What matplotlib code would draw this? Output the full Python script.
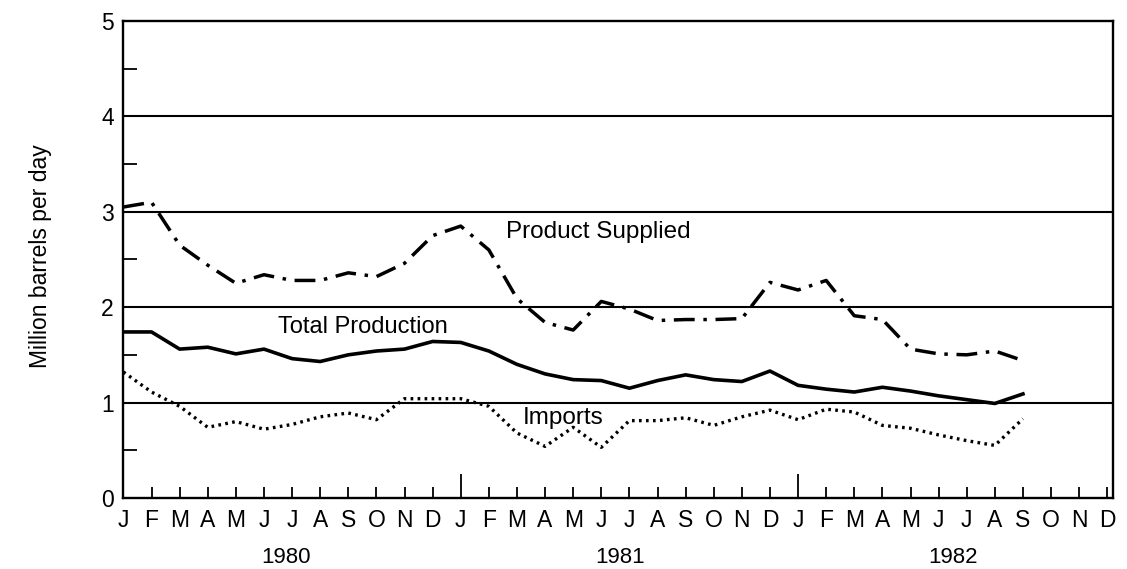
import matplotlib.pyplot as plt
import numpy as np

# monthly values, Jan 1980 .. Sep 1982 (million barrels per day)
product_supplied = [3.05, 3.10, 2.65, 2.44, 2.25, 2.34, 2.28, 2.28, 2.36, 2.32, 2.46, 2.75,
                    2.85, 2.60, 2.09, 1.84, 1.76, 2.06, 1.98, 1.86, 1.87, 1.87, 1.88, 2.26,
                    2.18, 2.28, 1.91, 1.87, 1.56, 1.51, 1.50, 1.54, 1.44]
total_production = [1.74, 1.74, 1.56, 1.58, 1.51, 1.56, 1.46, 1.43, 1.50, 1.54, 1.56, 1.64,
                    1.63, 1.54, 1.40, 1.30, 1.24, 1.23, 1.15, 1.23, 1.29, 1.24, 1.22, 1.33,
                    1.18, 1.14, 1.11, 1.16, 1.12, 1.07, 1.03, 0.99, 1.09]
imports = [1.32, 1.11, 0.96, 0.74, 0.80, 0.72, 0.77, 0.85, 0.89, 0.82, 1.04, 1.04,
           1.04, 0.96, 0.68, 0.54, 0.74, 0.53, 0.81, 0.81, 0.84, 0.76, 0.85, 0.92,
           0.82, 0.93, 0.90, 0.76, 0.73, 0.66, 0.60, 0.55, 0.83]

month_labels = list('JFMAMJJASOND') * 3
years = ['1980', '1981', '1982']

plt.rcParams['font.family'] = ['Liberation Sans', 'DejaVu Sans']

fig = plt.figure(figsize=(11.27, 5.69), dpi=100)
ax = fig.add_axes([0.1095, 0.125, 0.878, 0.838])

months = np.arange(len(product_supplied))

# horizontal rules at whole numbers
for v in [1, 2, 3, 4]:
    ax.axhline(v, color='black', lw=1.5, zorder=1)

ax.plot(months, product_supplied, color='black', lw=2.5,
        linestyle=(0, (6, 2.5, 1, 2.5)), zorder=3)
ax.plot(months, total_production, color='black', lw=2.6, zorder=3)
ax.plot(months, imports, color='black', lw=2.4,
        linestyle=(0, (0.8, 1.3)), zorder=3)

ax.text(13.6, 2.79, 'Product Supplied', fontsize=17.5, va='center', ha='left')
ax.text(5.5, 1.79, 'Total Production', fontsize=17, va='center', ha='left')
ax.text(14.2, 0.84, 'Imports', fontsize=17.5, va='center', ha='left')

ax.set_xlim(0, 35.2)
ax.set_ylim(0, 5)

ax.set_xticks(np.arange(36))
ax.set_xticklabels(month_labels, fontsize=16.5)
ax.set_yticks([0, 1, 2, 3, 4, 5])
ax.set_yticklabels(['0', '1', '2', '3', '4', '5'], fontsize=16.5)
ax.set_yticks(np.arange(0.5, 5, 1), minor=True)

ax.tick_params(axis='x', direction='in', length=8, width=1.3, pad=8)
ax.tick_params(axis='y', which='both', direction='in', length=10, width=1.3, pad=7)
# longer ticks at the year boundaries
for i in [12, 24]:
    ax.xaxis.get_major_ticks()[i].tick1line.set_markersize(17)

for s in ax.spines.values():
    s.set_linewidth(1.7)

for i, yr in enumerate(years):
    ax.text(5.8 + 11.85 * i, -0.125, yr, fontsize=16, ha='center', va='center',
            transform=ax.get_xaxis_transform())

fig.text(0.0355, 0.55, 'Million barrels per day', rotation=90, fontsize=16.5,
         ha='center', va='center')

fig.savefig('out.png', dpi=100)
